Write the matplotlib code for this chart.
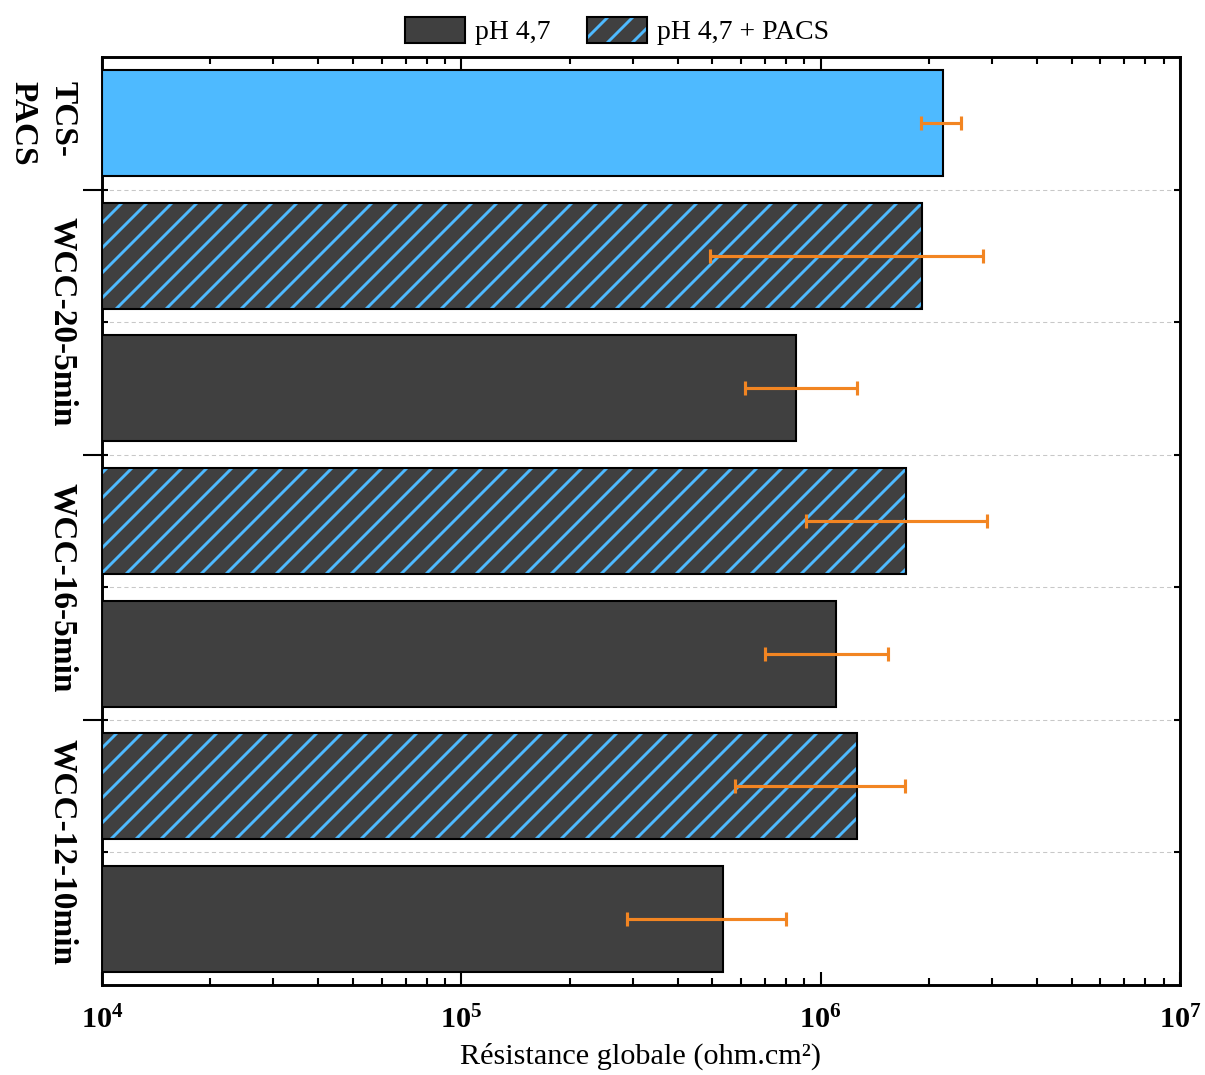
import numpy as np
import matplotlib
matplotlib.use("Agg")
from matplotlib import pyplot as plt
from matplotlib import ticker
from matplotlib.patches import Patch

# values (ohm.cm2)
groups = ["WCC-12-10min", "WCC-16-5min", "WCC-20-5min"]
ph_values = [5.35e5, 1.10e6, 8.55e5]
ph_err_low = [2.89e5, 7.00e5, 6.17e5]
ph_err_high = [8.02e5, 1.54e6, 1.26e6]
pacs_values = [1.26e6, 1.73e6, 1.91e6]
pacs_err_low = [5.78e5, 9.10e5, 4.92e5]
pacs_err_high = [1.72e6, 2.90e6, 2.83e6]
tcs_label = "TCS-\nPACS"
tcs_value = 2.19e6
tcs_err_low = 1.90e6
tcs_err_high = 2.46e6
legend_labels = ["pH 4,7", "pH 4,7 + PACS"]
x_limits = (1e4, 1e7)

DARK = "#404040"
BLUE = "#4EBAFF"
ORANGE = "#F28522"

plt.rcParams["font.family"] = ["Liberation Serif", "DejaVu Serif"]
plt.rcParams["mathtext.fontset"] = "custom"
plt.rcParams["mathtext.rm"] = "Liberation Serif"
plt.rcParams["mathtext.bf"] = "Liberation Serif:bold"
plt.rcParams["hatch.linewidth"] = 1.4


def draw_errors(ax, y, value, low, high):
    ax.errorbar(value, y, xerr=[[value - low], [high - value]], fmt="none",
                ecolor=ORANGE, elinewidth=1.5, capsize=3.2, capthick=1.5, zorder=5)


def main() -> None:
    fig = plt.figure(figsize=(1205 / 150, 1075 / 150), dpi=150)
    ax = fig.add_axes([102 / 1205, 90 / 1075, 1078 / 1205, 928 / 1075])
    ax.set_xscale("log")

    ph_pos = np.arange(len(groups)) * 2
    pacs_pos = ph_pos + 1
    tcs_pos = 2 * len(groups)
    h = 0.8
    left = x_limits[0]

    widths = np.array(ph_values) - left
    ax.barh(ph_pos, widths, left=left, height=h, color=DARK, edgecolor="black",
            linewidth=1.0, zorder=3)
    widths = np.array(pacs_values) - left
    ax.barh(pacs_pos, widths, left=left, height=h, color=DARK, edgecolor=BLUE,
            linewidth=0, hatch="//", zorder=3)
    ax.barh(pacs_pos, widths, left=left, height=h, facecolor="none",
            edgecolor="black", linewidth=1.0, zorder=4)
    ax.barh([tcs_pos], [tcs_value - left], left=left, height=h, color=BLUE,
            edgecolor="black", linewidth=1.0, zorder=3)

    for i in range(len(groups)):
        draw_errors(ax, ph_pos[i], ph_values[i], ph_err_low[i], ph_err_high[i])
        draw_errors(ax, pacs_pos[i], pacs_values[i], pacs_err_low[i], pacs_err_high[i])
    draw_errors(ax, tcs_pos, tcs_value, tcs_err_low, tcs_err_high)

    ax.set_xlim(*x_limits)
    ax.set_ylim(-0.5, tcs_pos + 0.5)

    # y ticks: group separators outside on the left, bar separators inside
    ax.yaxis.remove_overlapping_locs = False
    ax.set_yticks(pacs_pos + 0.5)
    ax.set_yticks(np.arange(0.5, tcs_pos, 1.0), minor=True)
    ax.tick_params(axis="y", which="major", direction="out", length=9, width=1.0,
                   left=True, right=False, labelleft=False)
    ax.tick_params(axis="y", which="minor", direction="in", length=3, width=1.0,
                   left=True, right=True)
    ax.yaxis.grid(True, which="minor", linestyle=(0, (4, 3)), color="#C8C8C8",
                  linewidth=0.5, zorder=0)
    ax.set_axisbelow(True)

    ax.xaxis.set_major_locator(ticker.LogLocator(base=10))
    ax.xaxis.set_minor_locator(ticker.LogLocator(base=10, subs=np.arange(2, 10)))
    ax.xaxis.set_major_formatter(
        ticker.FuncFormatter(lambda v, p: r"$\mathbf{10^{%d}}$" % round(np.log10(v))))
    ax.xaxis.set_minor_formatter(ticker.NullFormatter())
    ax.tick_params(axis="x", which="major", direction="in", length=6.3, width=1.0,
                   top=True, bottom=True, labelsize=14.5, pad=10)
    ax.tick_params(axis="x", which="minor", direction="in", length=3.4, width=1.0,
                   top=True, bottom=True)

    for spine in ax.spines.values():
        spine.set_linewidth(1.4)

    ax.set_xlabel("Résistance globale (ohm.cm²)", fontsize=14.5, labelpad=4)

    label_pos = list((ph_pos + pacs_pos) / 2) + [tcs_pos]
    for y, name in zip(label_pos, groups + [tcs_label]):
        ax.text(-0.022, y, name, transform=ax.get_yaxis_transform(), rotation=270,
                ha="right", va="center", multialignment="left", fontsize=16,
                fontweight="bold", linespacing=1.35)

    handles = [
        Patch(facecolor=DARK, edgecolor="black", linewidth=1.0),
        (Patch(facecolor=DARK, edgecolor=BLUE, linewidth=0, hatch="//"),
         Patch(facecolor="none", edgecolor="black", linewidth=1.0)),
    ]
    fig.legend(handles, legend_labels, loc="upper center",
               bbox_to_anchor=(617 / 1205, 1.0), ncol=2, frameon=False,
               fontsize=13.3, handlelength=2.17, handleheight=1.08,
               handletextpad=0.36, columnspacing=1.3, borderaxespad=0.2)

    fig.savefig("out.png", dpi=150)


if __name__ == "__main__":
    main()
